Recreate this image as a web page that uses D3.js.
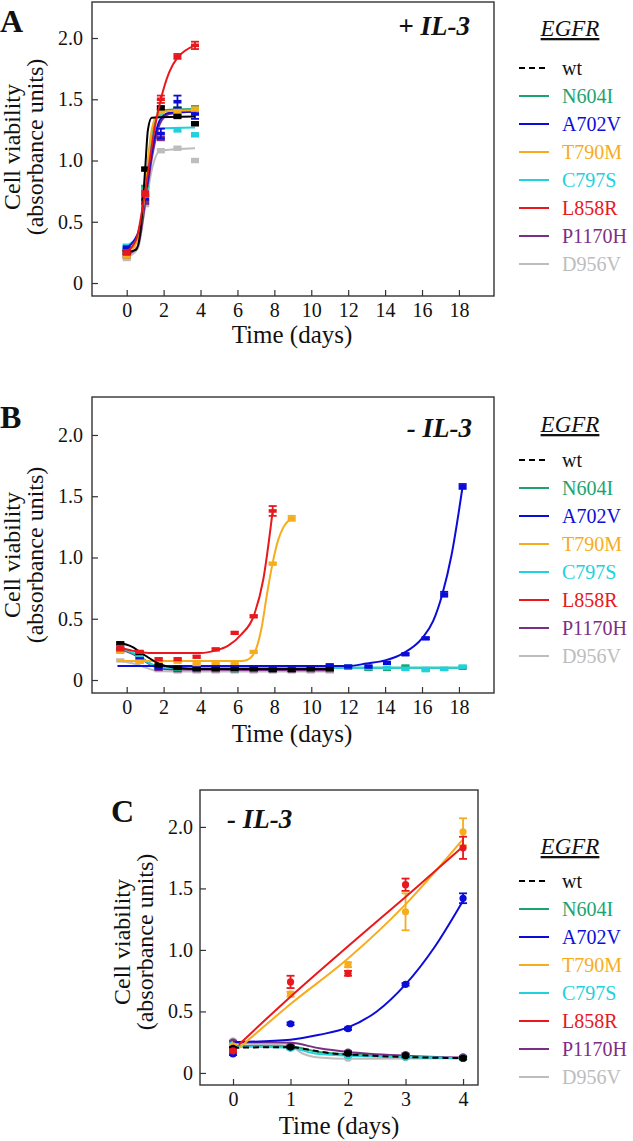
<!DOCTYPE html>
<html><head><meta charset="utf-8">
<script src="https://cdn.jsdelivr.net/npm/d3@7"></script>
<style>
html,body{margin:0;padding:0;background:#fff;}
svg{display:block;}
svg text{font-family:"Liberation Serif","Times New Roman",Times,serif;}
</style></head>
<body>
<svg id="chart" width="633" height="1141" font-family="Liberation Serif, Times New Roman, serif"></svg>
<script>
// ---------- shared ----------
const seriesNames = ["wt","N604I","A702V","T790M","C797S","L858R","P1170H","D956V"];
const seriesColors = ["#000000","#1ca470","#0c0cd8","#f6ad1d","#21d1dd","#e8181c","#7b2e86","#bdbdbd"];
const drawOrder = ["D956V","P1170H","N604I","C797S","A702V","T790M","wt","L858R"];
const yTicks = [0, 0.5, 1.0, 1.5, 2.0];
const yTickLabels = ["0", "0.5", "1.0", "1.5", "2.0"];
const xTicksAB = [0, 2, 4, 6, 8, 10, 12, 14, 16, 18];
const xTicksC = [0, 1, 2, 3, 4];

// ---------- Panel A (+ IL-3) ----------
const timesA = [0, 1, 1.85, 2.75, 3.7];
const A_wt     = [0.25, 0.93, 1.43, 1.36, 1.30];
const A_N604I  = [0.27, 0.78, 1.38, 1.42, 1.43];
const A_A702V  = [0.28, 0.70, 1.22, 1.48, 1.38];
const A_T790M  = [0.22, 0.72, 1.40, 1.40, 1.42];
const A_C797S  = [0.30, 0.76, 1.38, 1.25, 1.21];
const A_L858R  = [0.25, 0.73, 1.50, 1.85, 1.94];
const A_P1170H = [0.22, 0.66, 1.18, 1.42, 1.42];
const A_D956V  = [0.20, 0.64, 1.08, 1.10, 1.00];
const A_err_A702V = [0.02, 0.02, 0.04, 0.05, 0.04];
const A_err_L858R = [0.02, 0.02, 0.03, 0.02, 0.03];
const A_err_default = 0.015;

const A_fit_wt     = [[-0.1,0.25],[0.5,0.27],[0.8,0.50],[1.0,0.93],[1.15,1.25],[1.35,1.35],[3.7,1.36]];
const A_fit_N604I  = [[-0.1,0.26],[0.6,0.35],[1.0,0.75],[1.3,1.15],[1.6,1.35],[2.0,1.41],[3.7,1.42]];
const A_fit_A702V  = [[-0.1,0.28],[0.6,0.40],[1.0,0.70],[1.4,1.10],[1.8,1.33],[2.3,1.39],[3.7,1.40]];
const A_fit_T790M  = [[-0.1,0.22],[0.6,0.35],[1.0,0.75],[1.3,1.20],[1.6,1.36],[2.0,1.40],[3.7,1.41]];
const A_fit_C797S  = [[-0.1,0.30],[0.6,0.38],[1.0,0.78],[1.3,1.15],[1.6,1.26],[3.7,1.27]];
const A_fit_L858R  = [[-0.1,0.25],[0.5,0.35],[1.0,0.75],[1.5,1.25],[1.85,1.50],[2.3,1.72],[2.75,1.84],[3.2,1.90],[3.7,1.94]];
const A_fit_P1170H = [[-0.1,0.22],[0.6,0.30],[1.0,0.65],[1.4,1.05],[1.8,1.30],[2.3,1.38],[3.7,1.40]];
const A_fit_D956V  = [[-0.1,0.20],[0.6,0.28],[1.0,0.62],[1.4,0.95],[1.8,1.08],[3.7,1.10]];

// ---------- Panel B (- IL-3, long) ----------
const timesB = [-0.35, 0.7, 1.73, 2.76, 3.79, 4.82, 5.85, 6.88, 7.91, 8.94, 9.97, 11.0, 12.0, 13.1, 14.1, 15.1, 16.2, 17.2, 18.2];
const B_wt     = [0.30, 0.22, 0.12, 0.10, 0.09, 0.09, 0.09, 0.09, 0.08, 0.08, 0.09, 0.09];
const B_N604I  = [0.25, 0.20, 0.10, 0.09, 0.09, 0.09, 0.08, 0.09, 0.09, 0.09, 0.09, 0.10, 0.10, 0.09, 0.09, 0.11, 0.09, 0.09, 0.10];
const B_A702V  = [0.24, 0.17, 0.10, 0.10, 0.09, 0.10, 0.10, 0.10, 0.09, 0.10, 0.10, 0.12, 0.11, 0.11, 0.14, 0.21, 0.34, 0.70, 1.58];
const B_T790M  = [0.23, 0.15, 0.15, 0.15, 0.13, 0.14, 0.14, 0.23, 0.95, 1.32];
const B_C797S  = [0.27, 0.20, 0.10, 0.10, 0.09, 0.10, 0.09, 0.10, 0.09, 0.09, 0.10, 0.10, 0.11, 0.10, 0.10, 0.09, 0.08, 0.09, 0.11];
const B_L858R  = [0.26, 0.23, 0.17, 0.17, 0.19, 0.25, 0.385, 0.52, 1.38];
const B_P1170H = [0.25, 0.20, 0.09, 0.08, 0.08, 0.08, 0.08, 0.08, 0.08, 0.08, 0.08, 0.08];
const B_D956V  = [0.16, 0.15, 0.08, 0.07, 0.07, 0.07, 0.07, 0.07, 0.07, 0.07, 0.07, 0.07];
const B_err_A702V = [0.01,0.01,0.01,0.01,0.01,0.01,0.01,0.01,0.01,0.01,0.01,0.01,0.01,0.01,0.01,0.01,0.01,0.02,0.02];
const B_err_L858R = [0.02,0.01,0.01,0.01,0.01,0.01,0.01,0.01,0.04];
const B_err_T790M = [0.01,0.01,0.01,0.01,0.01,0.01,0.01,0.01,0.01,0.02];
const B_err_default = 0.01;

const B_fit_wt     = [[-0.5,0.31],[0.3,0.27],[1.0,0.20],[1.8,0.13],[2.6,0.10],[4,0.09],[11,0.09]];
const B_fit_N604I  = [[-0.5,0.26],[0.5,0.21],[1.5,0.12],[2.5,0.10],[18.3,0.10]];
const B_fit_A702V  = [[-0.5,0.115],[12,0.115],[13,0.135],[14,0.16],[15,0.22],[16,0.34],[16.6,0.48],[17.1,0.70],[17.6,1.02],[18.2,1.58]];
const B_fit_T790M  = [[-0.5,0.155],[6.3,0.155],[6.7,0.18],[7.0,0.25],[7.3,0.42],[7.6,0.70],[7.9,0.95],[8.2,1.14],[8.5,1.25],[8.94,1.32]];
const B_fit_C797S  = [[-0.5,0.27],[0.5,0.21],[1.3,0.13],[2.2,0.10],[18.3,0.10]];
const B_fit_L858R  = [[-0.5,0.27],[0.3,0.24],[1.2,0.22],[4,0.22],[4.8,0.24],[5.5,0.28],[6.2,0.37],[6.9,0.53],[7.4,0.82],[7.91,1.38]];
const B_fit_P1170H = [[-0.5,0.26],[0.5,0.20],[1.5,0.11],[2.5,0.085],[11,0.08]];
const B_fit_D956V  = [[-0.5,0.16],[0.5,0.13],[1.5,0.08],[2.5,0.07],[11,0.07]];

// ---------- Panel C (- IL-3, short) ----------
const timesC = [0, 1, 2, 3, 4];
const C_wt     = [0.20, 0.21, 0.16, 0.14, 0.12];
const C_N604I  = [0.22, 0.21, 0.15, 0.13, 0.12];
const C_A702V  = [0.155, 0.40, 0.36, 0.72, 1.42];
const C_T790M  = [0.22, 0.64, 0.88, 1.31, 1.96];
const C_C797S  = [0.23, 0.20, 0.14, 0.13, 0.12];
const C_L858R  = [0.18, 0.74, 0.81, 1.53, 1.83];
const C_P1170H = [0.25, 0.22, 0.17, 0.15, 0.13];
const C_D956V  = [0.26, 0.21, 0.12, 0.13, 0.12];
const C_err_A702V = [0.01, 0.01, 0.01, 0.01, 0.04];
const C_err_T790M = [0.01, 0.02, 0.02, 0.15, 0.11];
const C_err_L858R = [0.01, 0.05, 0.02, 0.05, 0.09];
const C_err_default = 0.01;

const C_fit_wt     = [[0,0.205],[1,0.21],[1.3,0.19],[1.7,0.16],[2,0.15],[3,0.13],[4,0.12]];
const C_fit_N604I  = [[0,0.22],[1,0.215],[1.5,0.17],[2,0.15],[3,0.13],[4,0.12]];
const C_fit_A702V  = [[0,0.25],[1,0.27],[1.5,0.31],[2,0.37],[2.5,0.50],[3,0.72],[3.5,1.02],[4,1.40]];
const C_fit_T790M  = [[0.1,0.20],[1,0.56],[2,0.93],[3,1.37],[4,1.90]];
const C_fit_C797S  = [[0,0.215],[1,0.205],[1.4,0.16],[2,0.14],[3,0.13],[4,0.12]];
const C_fit_L858R  = [[0.1,0.23],[1,0.62],[2,1.03],[3,1.43],[4,1.84]];
const C_fit_P1170H = [[0,0.25],[1,0.245],[1.5,0.20],[2,0.17],[3,0.14],[4,0.125]];
const C_fit_D956V  = [[0,0.24],[1,0.22],[1.2,0.16],[1.5,0.125],[2,0.115],[4,0.12]];

// ---------- build panel tables ----------
function mk(times, vals, errs, def, fit) {
  return { pts: vals.map((v, i) => ({ t: times[i], v: v, e: errs ? errs[i] : def })), fit: fit };
}
const panelA = {
  wt: mk(timesA, A_wt, null, A_err_default, A_fit_wt),
  N604I: mk(timesA, A_N604I, null, A_err_default, A_fit_N604I),
  A702V: mk(timesA, A_A702V, A_err_A702V, A_err_default, A_fit_A702V),
  T790M: mk(timesA, A_T790M, null, A_err_default, A_fit_T790M),
  C797S: mk(timesA, A_C797S, null, A_err_default, A_fit_C797S),
  L858R: mk(timesA, A_L858R, A_err_L858R, A_err_default, A_fit_L858R),
  P1170H: mk(timesA, A_P1170H, null, A_err_default, A_fit_P1170H),
  D956V: mk(timesA, A_D956V, null, A_err_default, A_fit_D956V)
};
const panelB = {
  wt: mk(timesB, B_wt, null, B_err_default, B_fit_wt),
  N604I: mk(timesB, B_N604I, null, B_err_default, B_fit_N604I),
  A702V: mk(timesB, B_A702V, B_err_A702V, B_err_default, B_fit_A702V),
  T790M: mk(timesB, B_T790M, B_err_T790M, B_err_default, B_fit_T790M),
  C797S: mk(timesB, B_C797S, null, B_err_default, B_fit_C797S),
  L858R: mk(timesB, B_L858R, B_err_L858R, B_err_default, B_fit_L858R),
  P1170H: mk(timesB, B_P1170H, null, B_err_default, B_fit_P1170H),
  D956V: mk(timesB, B_D956V, null, B_err_default, B_fit_D956V)
};
const panelC = {
  wt: mk(timesC, C_wt, null, C_err_default, C_fit_wt),
  N604I: mk(timesC, C_N604I, null, C_err_default, C_fit_N604I),
  A702V: mk(timesC, C_A702V, C_err_A702V, C_err_default, C_fit_A702V),
  T790M: mk(timesC, C_T790M, C_err_T790M, C_err_default, C_fit_T790M),
  C797S: mk(timesC, C_C797S, null, C_err_default, C_fit_C797S),
  L858R: mk(timesC, C_L858R, C_err_L858R, C_err_default, C_fit_L858R),
  P1170H: mk(timesC, C_P1170H, null, C_err_default, C_fit_P1170H),
  D956V: mk(timesC, C_D956V, null, C_err_default, C_fit_D956V)
};

const FONT = "Liberation Serif, Times New Roman, serif";
const color = d3.scaleOrdinal().domain(seriesNames).range(seriesColors);
const svg = d3.select("#chart");

function txt(sel) { return sel.attr("font-family", FONT).attr("fill", "#111"); }

function drawPanel(cfg) {
  const x = d3.scaleLinear().domain(cfg.xDomain).range([cfg.left, cfg.right]);
  const y = d3.scaleLinear().domain(cfg.yDomain).range([cfg.bottom, cfg.top]);
  const g = svg.append("g");
  const clipId = "clip" + cfg.id;
  svg.append("clipPath").attr("id", clipId).append("rect")
    .attr("x", cfg.left).attr("y", cfg.top).attr("width", cfg.right - cfg.left).attr("height", cfg.bottom - cfg.top);

  // axes
  const ya = g.append("g").attr("transform", `translate(${cfg.left},0)`)
    .call(d3.axisLeft(y).tickValues(yTicks).tickFormat((d, i) => yTickLabels[i]).tickSize(-6).tickPadding(cfg.yPad));
  const xa = g.append("g").attr("transform", `translate(0,${cfg.bottom})`)
    .call(d3.axisBottom(x).tickValues(cfg.xTicks).tickFormat(d3.format("d")).tickSize(-6).tickPadding(7));
  [ya, xa].forEach(a => {
    a.attr("font-family", FONT);
    a.select(".domain").remove();
    a.selectAll("line").attr("stroke", "#333").attr("stroke-width", 1.2);
    txt(a.selectAll("text")).attr("font-size", 20);
  });

  const plot = g.append("g").attr("clip-path", `url(#${clipId})`);
  const line = d3.line().x(d => x(d[0])).y(d => y(d[1])).curve(d3.curveMonotoneX);

  drawOrder.forEach(name => {
    const s = cfg.data[name];
    const c = color(name);
    plot.append("path").datum(s.fit).attr("d", line)
      .attr("fill", "none").attr("stroke", c).attr("stroke-width", 2)
      .attr("stroke-dasharray", (name === "wt" && cfg.dashWt) ? "6,4" : null);
    const eg = plot.append("g");
    s.pts.forEach(p => {
      const cx = x(p.t), y1 = y(p.v + p.e), y2 = y(p.v - p.e);
      eg.append("line").attr("x1", cx).attr("x2", cx).attr("y1", y1).attr("y2", y2).attr("stroke", c).attr("stroke-width", 1.8);
      [y1, y2].forEach(yy => eg.append("line").attr("x1", cx - cfg.cap).attr("x2", cx + cfg.cap).attr("y1", yy).attr("y2", yy).attr("stroke", c).attr("stroke-width", 1.8));
      if (cfg.marker === "circle") {
        eg.append("circle").attr("cx", cx).attr("cy", y(p.v)).attr("r", 3.6).attr("fill", c);
      } else {
        eg.append("rect").attr("x", cx - 4).attr("y", y(p.v) - 1.8).attr("width", 8).attr("height", 3.6).attr("fill", c);
      }
    });
  });

  // frame
  g.append("rect").attr("x", cfg.left).attr("y", cfg.top).attr("width", cfg.right - cfg.left).attr("height", cfg.bottom - cfg.top)
    .attr("fill", "none").attr("stroke", "#333").attr("stroke-width", 1.4);

  // titles
  txt(g.append("text")).attr("x", cfg.xTitleX).attr("y", cfg.xTitleY).attr("text-anchor", "middle")
    .attr("font-size", 25).text("Time (days)");
  txt(g.append("text")).attr("transform", `translate(${cfg.yTitleX1},${cfg.yTitleCy}) rotate(-90)`).attr("text-anchor", "middle")
    .attr("font-size", 24).text("Cell viability");
  txt(g.append("text")).attr("transform", `translate(${cfg.yTitleX2},${cfg.yTitleCy}) rotate(-90)`).attr("text-anchor", "middle")
    .attr("font-size", 24).text("(absorbance units)");
  txt(g.append("text")).attr("x", cfg.letterX).attr("y", cfg.letterY).attr("font-size", 32).attr("font-weight", "bold")
    .text(cfg.letter);
  txt(g.append("text")).attr("x", cfg.condX).attr("y", cfg.condY).attr("text-anchor", cfg.condAnchor)
    .attr("font-size", 27).attr("font-weight", "bold").attr("font-style", "italic").text(cfg.cond);

  // legend
  const lg = g.append("g");
  txt(lg.append("text")).attr("x", 570).attr("y", cfg.legTitleY).attr("text-anchor", "middle")
    .attr("font-size", 23).attr("font-style", "italic").attr("text-decoration", "underline").text("EGFR");
  seriesNames.forEach((name, i) => {
    const yy = cfg.legY0 + i * 28;
    lg.append("line").attr("x1", 519).attr("x2", 549).attr("y1", yy).attr("y2", yy)
      .attr("stroke", color(name)).attr("stroke-width", 2)
      .attr("stroke-dasharray", name === "wt" ? "6,4" : null);
    txt(lg.append("text")).attr("x", 562).attr("y", yy).attr("dy", "0.35em").attr("font-size", 20)
      .attr("fill", name === "wt" ? "#111" : color(name)).text(name);
  });
}

drawPanel({
  id: "A", data: panelA, left: 92, right: 494, top: 2, bottom: 296,
  xDomain: [-1.88, 19.9], yDomain: [-0.106, 2.294], xTicks: xTicksAB, yPad: 9,
  cap: 4, marker: "bar", dashWt: false,
  xTitleX: 292, xTitleY: 343, yTitleX1: 20, yTitleX2: 43, yTitleCy: 147,
  letter: "A", letterX: 0, letterY: 32, cond: "+ IL-3", condX: 470, condY: 35, condAnchor: "end",
  legTitleY: 36, legY0: 68
});
drawPanel({
  id: "B", data: panelB, left: 92, right: 494, top: 397, bottom: 693,
  xDomain: [-1.88, 19.9], yDomain: [-0.106, 2.31], xTicks: xTicksAB, yPad: 9,
  cap: 4, marker: "bar", dashWt: false,
  xTitleX: 292, xTitleY: 742, yTitleX1: 20, yTitleX2: 43, yTitleCy: 555,
  letter: "B", letterX: 0, letterY: 428, cond: "- IL-3", condX: 472, condY: 437, condAnchor: "end",
  legTitleY: 432, legY0: 460
});
drawPanel({
  id: "C", data: panelC, left: 200, right: 478, top: 790, bottom: 1085,
  xDomain: [-0.574, 4.26], yDomain: [-0.098, 2.30], xTicks: xTicksC, yPad: 7,
  cap: 4, marker: "circle", dashWt: true,
  xTitleX: 339, xTitleY: 1134, yTitleX1: 130, yTitleX2: 153, yTitleCy: 942,
  letter: "C", letterX: 111, letterY: 822, cond: "- IL-3", condX: 227, condY: 828, condAnchor: "start",
  legTitleY: 854, legY0: 881
});
</script>
</body></html>
